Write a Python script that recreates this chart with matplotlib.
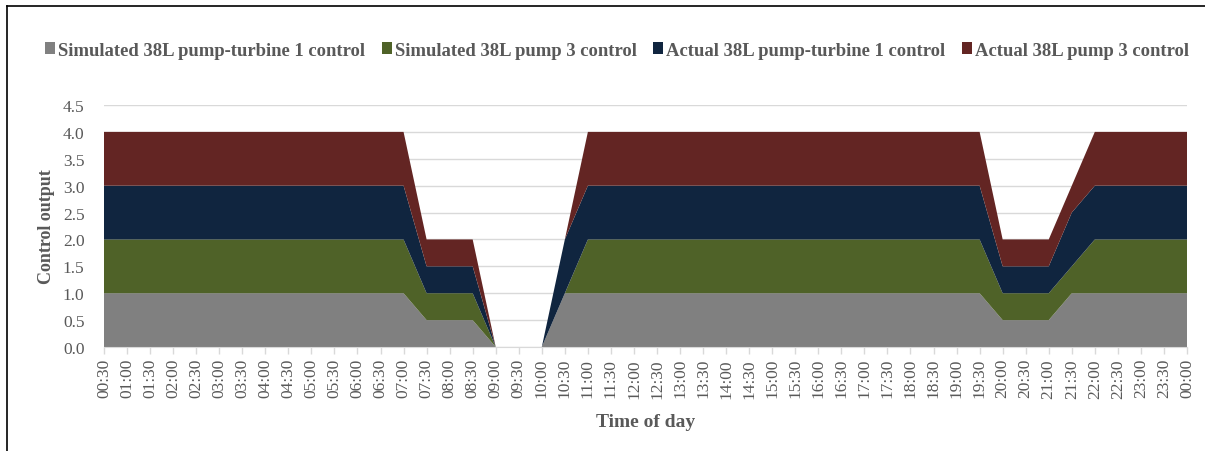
import numpy as np
import matplotlib.pyplot as plt
from matplotlib.lines import Line2D

plt.rcParams['font.family'] = ['Liberation Serif', 'DejaVu Serif']

# half-hour slots, 00:30 through 00:00
times = ['00:30', '01:00', '01:30', '02:00', '02:30', '03:00', '03:30', '04:00',
         '04:30', '05:00', '05:30', '06:00', '06:30', '07:00', '07:30', '08:00',
         '08:30', '09:00', '09:30', '10:00', '10:30', '11:00', '11:30', '12:00',
         '12:30', '13:00', '13:30', '14:00', '14:30', '15:00', '15:30', '16:00',
         '16:30', '17:00', '17:30', '18:00', '18:30', '19:00', '19:30', '20:00',
         '20:30', '21:00', '21:30', '22:00', '22:30', '23:00', '23:30', '00:00']

sim_pt1 = [1, 1, 1, 1, 1, 1, 1, 1, 1, 1, 1, 1, 1, 1, 0.5, 0.5,
           0.5, 0, 0, 0, 1, 1, 1, 1, 1, 1, 1, 1, 1, 1, 1, 1,
           1, 1, 1, 1, 1, 1, 1, 0.5, 0.5, 0.5, 1, 1, 1, 1, 1, 1]
sim_p3 = [1, 1, 1, 1, 1, 1, 1, 1, 1, 1, 1, 1, 1, 1, 0.5, 0.5,
          0.5, 0, 0, 0, 0, 1, 1, 1, 1, 1, 1, 1, 1, 1, 1, 1,
          1, 1, 1, 1, 1, 1, 1, 0.5, 0.5, 0.5, 0.5, 1, 1, 1, 1, 1]
act_pt1 = [1, 1, 1, 1, 1, 1, 1, 1, 1, 1, 1, 1, 1, 1, 0.5, 0.5,
           0.5, 0, 0, 0, 1, 1, 1, 1, 1, 1, 1, 1, 1, 1, 1, 1,
           1, 1, 1, 1, 1, 1, 1, 0.5, 0.5, 0.5, 1, 1, 1, 1, 1, 1]
act_p3 = [1, 1, 1, 1, 1, 1, 1, 1, 1, 1, 1, 1, 1, 1, 0.5, 0.5,
          0.5, 0, 0, 0, 0, 1, 1, 1, 1, 1, 1, 1, 1, 1, 1, 1,
          1, 1, 1, 1, 1, 1, 1, 0.5, 0.5, 0.5, 0.5, 1, 1, 1, 1, 1]

labels = ['Simulated 38L pump-turbine 1 control', 'Simulated 38L pump 3 control',
          'Actual 38L pump-turbine 1 control', 'Actual 38L pump 3 control']
colors = ['#808080', '#4F6228', '#10253F', '#632523']
txt = '#595959'

fig = plt.figure(figsize=(12.05, 4.52), dpi=100)
ax = fig.add_axes([104 / 1205, 1 - 348 / 452, 1083 / 1205, 242 / 452])

x = np.arange(len(times))
ax.stackplot(x, sim_pt1, sim_p3, act_pt1, act_p3, colors=colors, labels=labels,
             linewidth=0, zorder=2)

ax.set_xlim(0, len(times) - 1)
ax.set_ylim(0, 4.5)
ax.set_yticks(np.arange(0, 4.51, 0.5))
ax.set_yticklabels([f'{v:.1f}' for v in np.arange(0, 4.51, 0.5)])
ax.set_xticks(x)
ax.set_xticklabels(times, rotation=90)
ax.grid(axis='y', color='#D9D9D9', linewidth=1, zorder=0)
ax.set_axisbelow(True)
for s in ['top', 'right', 'left']:
    ax.spines[s].set_visible(False)
ax.spines['bottom'].set_color('#D9D9D9')
ax.spines['bottom'].set_zorder(3)
ax.tick_params(axis='x', colors='#D9D9D9', labelcolor=txt, labelsize=12.5,
               length=5, width=1, pad=3)
ax.tick_params(axis='y', length=0, labelcolor=txt, labelsize=12.5, pad=14)

ax.set_ylabel('Control output', fontsize=13, fontweight='bold', color=txt, labelpad=6)
ax.set_xlabel('Time of day', fontsize=14, fontweight='bold', color=txt, labelpad=11)

handles, lbls = ax.get_legend_handles_labels()
fig.legend(handles, lbls, loc='center', bbox_to_anchor=(617 / 1205, 1 - 51 / 452), ncol=4,
           frameon=False, prop={'weight': 'bold', 'size': 13.4},
           labelcolor=txt, handlelength=0.55, handleheight=0.55,
           handletextpad=0.15, columnspacing=0.9)

# chart border (left and top edges)
fig.add_artist(Line2D([7 / 1205, 7 / 1205], [0, 1 - 7 / 452], transform=fig.transFigure,
                      color='black', linewidth=1.2))
fig.add_artist(Line2D([7 / 1205, 1], [1 - 7 / 452, 1 - 7 / 452], transform=fig.transFigure,
                      color='black', linewidth=1.2))

fig.savefig('out.png', dpi=100)
